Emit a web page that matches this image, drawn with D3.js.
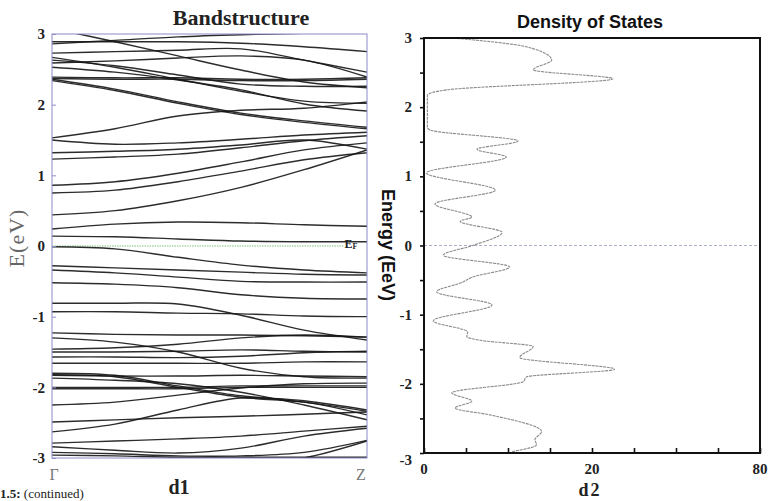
<!DOCTYPE html>
<html>
<head>
<meta charset="utf-8">
<script src="https://cdn.jsdelivr.net/npm/d3@7"></script>
<style>
  body { margin: 0; background: #fff; }
</style>
</head>
<body>
<svg id="chart" width="769" height="501"></svg>
<script>

// ---- data ----
var kPoints = [0, 0.2, 0.4, 0.6, 0.8, 1];
var kLabels = ["Γ", "Z"];
var energyTicks = [-3, -2, -1, 0, 1, 2, 3];
var fermiLevel = 0;

// band energies (eV) at each k point
var bands = [
	[2.86, 2.91, 2.96, 2.99, 3.01, 3.01],
	[2.89, 2.89, 2.89, 2.87, 2.82, 2.75],
	[3.08, 2.89, 2.69, 2.49, 2.32, 2.24],
	[2.73, 2.75, 2.77, 2.79, 2.63, 2.46],
	[2.67, 2.53, 2.36, 2.19, 2.05, 2.02],
	[2.59, 2.62, 2.66, 2.69, 2.63, 2.39],
	[2.53, 2.46, 2.35, 2.21, 2.01, 1.91],
	[2.63, 2.55, 2.42, 2.29, 2.26, 2.26],
	[2.39, 2.38, 2.38, 2.36, 2.36, 2.38],
	[2.37, 2.36, 2.36, 2.34, 2.34, 2.36],
	[2.36, 2.22, 2.04, 1.88, 1.77, 1.68],
	[2.34, 2.20, 2.02, 1.86, 1.75, 1.66],
	[1.53, 1.66, 1.84, 1.92, 1.95, 2.04],
	[1.50, 1.44, 1.46, 1.51, 1.57, 1.61],
	[1.32, 1.34, 1.37, 1.43, 1.50, 1.37],
	[1.23, 1.26, 1.30, 1.39, 1.49, 1.56],
	[0.86, 0.91, 1.03, 1.19, 1.36, 1.46],
	[0.75, 0.79, 0.91, 1.06, 1.22, 1.32],
	[0.44, 0.50, 0.64, 0.83, 1.08, 1.36],
	[0.24, 0.31, 0.34, 0.33, 0.30, 0.28],
	[0.14, 0.13, 0.10, 0.07, 0.06, 0.06],
	[-0.01, -0.04, -0.16, -0.27, -0.34, -0.38],
	[-0.28, -0.31, -0.34, -0.37, -0.40, -0.41],
	[-0.34, -0.38, -0.44, -0.50, -0.51, -0.51],
	[-0.52, -0.54, -0.59, -0.69, -0.74, -0.75],
	[-0.81, -0.81, -0.82, -0.98, -1.19, -1.33],
	[-0.93, -0.93, -0.95, -0.96, -0.99, -1.00],
	[-1.23, -1.25, -1.26, -1.26, -1.27, -1.29],
	[-1.46, -1.44, -1.39, -1.30, -1.26, -1.29],
	[-1.50, -1.50, -1.49, -1.47, -1.49, -1.50],
	[-1.57, -1.57, -1.58, -1.56, -1.51, -1.49],
	[-1.66, -1.66, -1.66, -1.66, -1.64, -1.64],
	[-1.30, -1.36, -1.50, -1.73, -1.85, -1.87],
	[-1.80, -1.83, -1.98, -2.12, -2.19, -2.32],
	[-1.82, -1.85, -2.00, -2.14, -2.21, -2.34],
	[-1.83, -1.84, -1.84, -1.83, -1.84, -1.85],
	[-2.00, -2.00, -2.00, -1.98, -1.98, -1.98],
	[-2.02, -2.02, -2.02, -2.00, -2.00, -2.00],
	[-2.25, -2.21, -2.11, -2.01, -1.95, -1.94],
	[-1.87, -1.90, -1.95, -2.07, -2.25, -2.46],
	[-2.49, -2.46, -2.43, -2.41, -2.38, -2.35],
	[-2.63, -2.52, -2.32, -2.15, -2.21, -2.39],
	[-2.79, -2.76, -2.73, -2.69, -2.62, -2.55],
	[-2.84, -2.89, -2.93, -2.86, -2.69, -2.58],
	[-2.92, -2.94, -2.97, -2.97, -2.92, -2.75],
	[-2.96, -2.97, -2.99, -2.99, -2.99, -2.99],
	[-3.31, -3.24, -3.17, -3.10, -3.00, -2.76]
];

// density of states
var dosEnergy = [-2.98, -2.88, -2.81, -2.69, -2.45, -2.35, -2.25, -2.13, -1.97, -1.90,
	-1.79, -1.62, -1.46, -1.37, -1.32, -1.25, -1.09, -0.86, -0.67, -0.53,
	-0.46, -0.31, -0.14, 0.00, 0.19, 0.35, 0.41, 0.60, 0.80, 1.05,
	1.28, 1.39, 1.51, 1.67, 1.71, 2.17, 2.25, 2.41, 2.54, 2.68, 2.87, 3.00];
var dosValue = [10.5, 13.4, 13.2, 14.0, 7.9, 3.7, 5.7, 3.3, 11.8, 12.2,
	22.7, 11.4, 13.0, 6.7, 5.1, 5.2, 1.1, 8.1, 1.5, 4.6,
	5.7, 10.2, 2.3, 5.8, 9.3, 4.3, 5.7, 1.3, 8.5, 0.3,
	9.8, 6.3, 11.2, 0.7, 0.4, 0.4, 2.7, 22.5, 13.0, 15.2, 12.3, 3.5];
var dosTicks = [0, 20, 40];
var dosTickLabels = ["0", "20", "80"];

var svg = d3.select("#chart");
var serif = "'Liberation Serif', 'Times New Roman', serif";
var sans = "'Liberation Sans', Arial, sans-serif";

// ---- left: band structure ----
var bx = d3.scaleLinear().domain([0, 1]).range([52, 367]);
var by = d3.scaleLinear().domain([-3, 3]).range([458, 34]);

svg.append("clipPath").attr("id", "bandClip")
	.append("rect")
	.attr("x", bx(0)).attr("y", by(3))
	.attr("width", bx(1) - bx(0)).attr("height", by(-3) - by(3));

var bandLine = d3.line()
	.x(function(d, i) { return bx(kPoints[i]); })
	.y(function(d) { return by(d); })
	.curve(d3.curveCatmullRom.alpha(0.5));

svg.append("line")
	.attr("x1", bx(0)).attr("x2", bx(0.925))
	.attr("y1", by(fermiLevel)).attr("y2", by(fermiLevel))
	.attr("stroke", "#7cc47c").attr("stroke-width", 1)
	.attr("stroke-dasharray", "1.5,1");

svg.append("g").attr("clip-path", "url(#bandClip)")
	.selectAll("path")
	.data(bands)
	.enter()
	.append("path")
	.attr("d", bandLine)
	.attr("fill", "none")
	.attr("stroke", "#151515")
	.attr("stroke-width", 1.4)
	.attr("stroke-opacity", 0.9);

svg.append("rect")
	.attr("x", bx(0)).attr("y", by(3))
	.attr("width", bx(1) - bx(0)).attr("height", by(-3) - by(3))
	.attr("fill", "none").attr("stroke", "#8c8cc8").attr("stroke-width", 1);

var bandAxis = d3.axisLeft(by).tickValues(energyTicks).tickSize(-4).tickPadding(7)
	.tickFormat(d3.format("d"));
var bAx = svg.append("g").attr("transform", "translate(" + bx(0) + ",0)").call(bandAxis);
bAx.select(".domain").remove();
bAx.selectAll("line").attr("stroke", "#8c8cc8");
bAx.selectAll("text")
	.attr("font-family", serif).attr("font-weight", "bold").attr("font-size", 15)
	.attr("fill", "#222")
	.text(function(d) { return d < 0 ? "-" + Math.abs(d) : d; });

svg.append("text")
	.attr("x", bx(0.925) + 1).attr("y", by(fermiLevel) + 2)
	.attr("font-family", serif).attr("font-weight", "bold").attr("font-size", 12)
	.attr("fill", "#222")
	.html('E<tspan font-size="8" dy="1">F</tspan>');

svg.selectAll(".klabel")
	.data(kLabels)
	.enter()
	.append("text")
	.attr("x", function(d, i) { return bx(i) + (i == 0 ? 2 : -6); })
	.attr("y", 480)
	.attr("text-anchor", "middle")
	.attr("font-family", serif).attr("font-size", 16).attr("fill", "#777")
	.text(function(d) { return d; });

svg.append("text")
	.attr("x", 241).attr("y", 25)
	.attr("text-anchor", "middle")
	.attr("font-family", serif).attr("font-weight", "bold").attr("font-size", 22)
	.attr("fill", "#222")
	.text("Bandstructure");

svg.append("text")
	.attr("transform", "translate(24,238) rotate(-90)")
	.attr("text-anchor", "middle")
	.attr("font-family", serif).attr("font-size", 22).attr("fill", "#666")
	.attr("letter-spacing", 1)
	.text("E(eV)");

svg.append("text")
	.attr("x", 179).attr("y", 494)
	.attr("text-anchor", "middle")
	.attr("font-family", serif).attr("font-weight", "bold").attr("font-size", 20)
	.attr("fill", "#222")
	.text("d1");

// caption left over at the bottom edge
svg.append("text")
	.attr("x", 0).attr("y", 498)
	.attr("font-family", serif).attr("font-size", 13).attr("fill", "#222")
	.html('<tspan font-weight="bold">1.5:</tspan>  (continued)');

// ---- right: density of states ----
var dx = d3.scaleLinear().domain([0, 40]).range([424, 760]);
var dy = d3.scaleLinear().domain([-3, 3]).range([453, 38]);

svg.append("line")
	.attr("x1", dx(0)).attr("x2", dx(40))
	.attr("y1", dy(fermiLevel)).attr("y2", dy(fermiLevel))
	.attr("stroke", "#aab0c8").attr("stroke-width", 1)
	.attr("stroke-dasharray", "3,2");

var dosPoints = dosEnergy.map(function(e, i) { return [dosValue[i], e]; });
var dosLine = d3.line()
	.x(function(d) { return dx(d[0]); })
	.y(function(d) { return dy(d[1]); })
	.curve(d3.curveMonotoneY);

svg.append("path")
	.datum(dosPoints)
	.attr("d", dosLine)
	.attr("fill", "none")
	.attr("stroke", "#8a8a8a")
	.attr("stroke-width", 1.1)
	.attr("stroke-dasharray", "3,0.8");

svg.append("rect")
	.attr("x", dx(0)).attr("y", dy(3))
	.attr("width", dx(40) - dx(0)).attr("height", dy(-3) - dy(3))
	.attr("fill", "none").attr("stroke", "#111").attr("stroke-width", 2);

var dosYAxis = d3.axisLeft(dy).ticks(12).tickSize(4).tickFormat("");
var dyAx = svg.append("g").attr("transform", "translate(" + dx(0) + ",0)").call(dosYAxis);
dyAx.select(".domain").remove();
dyAx.selectAll("line").attr("stroke", "#111").attr("stroke-width", 1.6);

svg.selectAll(".elabel")
	.data(energyTicks)
	.enter()
	.append("text")
	.attr("x", 412)
	.attr("y", function(d) { return dy(d) + (d == -3 ? 12 : 5); })
	.attr("text-anchor", "end")
	.attr("font-family", serif).attr("font-weight", "bold").attr("font-size", 15)
	.attr("fill", "#222")
	.text(function(d) { return d < 0 ? "-" + Math.abs(d) : d; });

var dosXAxis = d3.axisBottom(dx).ticks(8).tickSize(-5).tickFormat("");
var dxAx = svg.append("g").attr("transform", "translate(0," + dy(-3) + ")").call(dosXAxis);
dxAx.select(".domain").remove();
dxAx.selectAll("line").attr("stroke", "#111").attr("stroke-width", 1.6);

svg.selectAll(".dlabel")
	.data(dosTicks)
	.enter()
	.append("text")
	.attr("x", function(d) { return dx(d) + (d == 40 ? 0 : 0); })
	.attr("y", 474)
	.attr("text-anchor", "middle")
	.attr("font-family", serif).attr("font-weight", "bold").attr("font-size", 15)
	.attr("fill", "#222")
	.text(function(d, i) { return dosTickLabels[i]; });

svg.append("text")
	.attr("x", 590).attr("y", 28)
	.attr("text-anchor", "middle")
	.attr("font-family", sans).attr("font-weight", "bold").attr("font-size", 18)
	.attr("fill", "#111")
	.text("Density of States");

svg.append("text")
	.attr("transform", "translate(382,245) rotate(90)")
	.attr("text-anchor", "middle")
	.attr("font-family", sans).attr("font-weight", "bold").attr("font-size", 18)
	.attr("fill", "#111")
	.text("Energy (EeV)");

svg.append("text")
	.attr("x", 590).attr("y", 496)
	.attr("text-anchor", "middle")
	.attr("font-family", serif).attr("font-weight", "bold").attr("font-size", 18)
	.attr("letter-spacing", 2)
	.attr("fill", "#222")
	.text("d2");

</script>
</body>
</html>
